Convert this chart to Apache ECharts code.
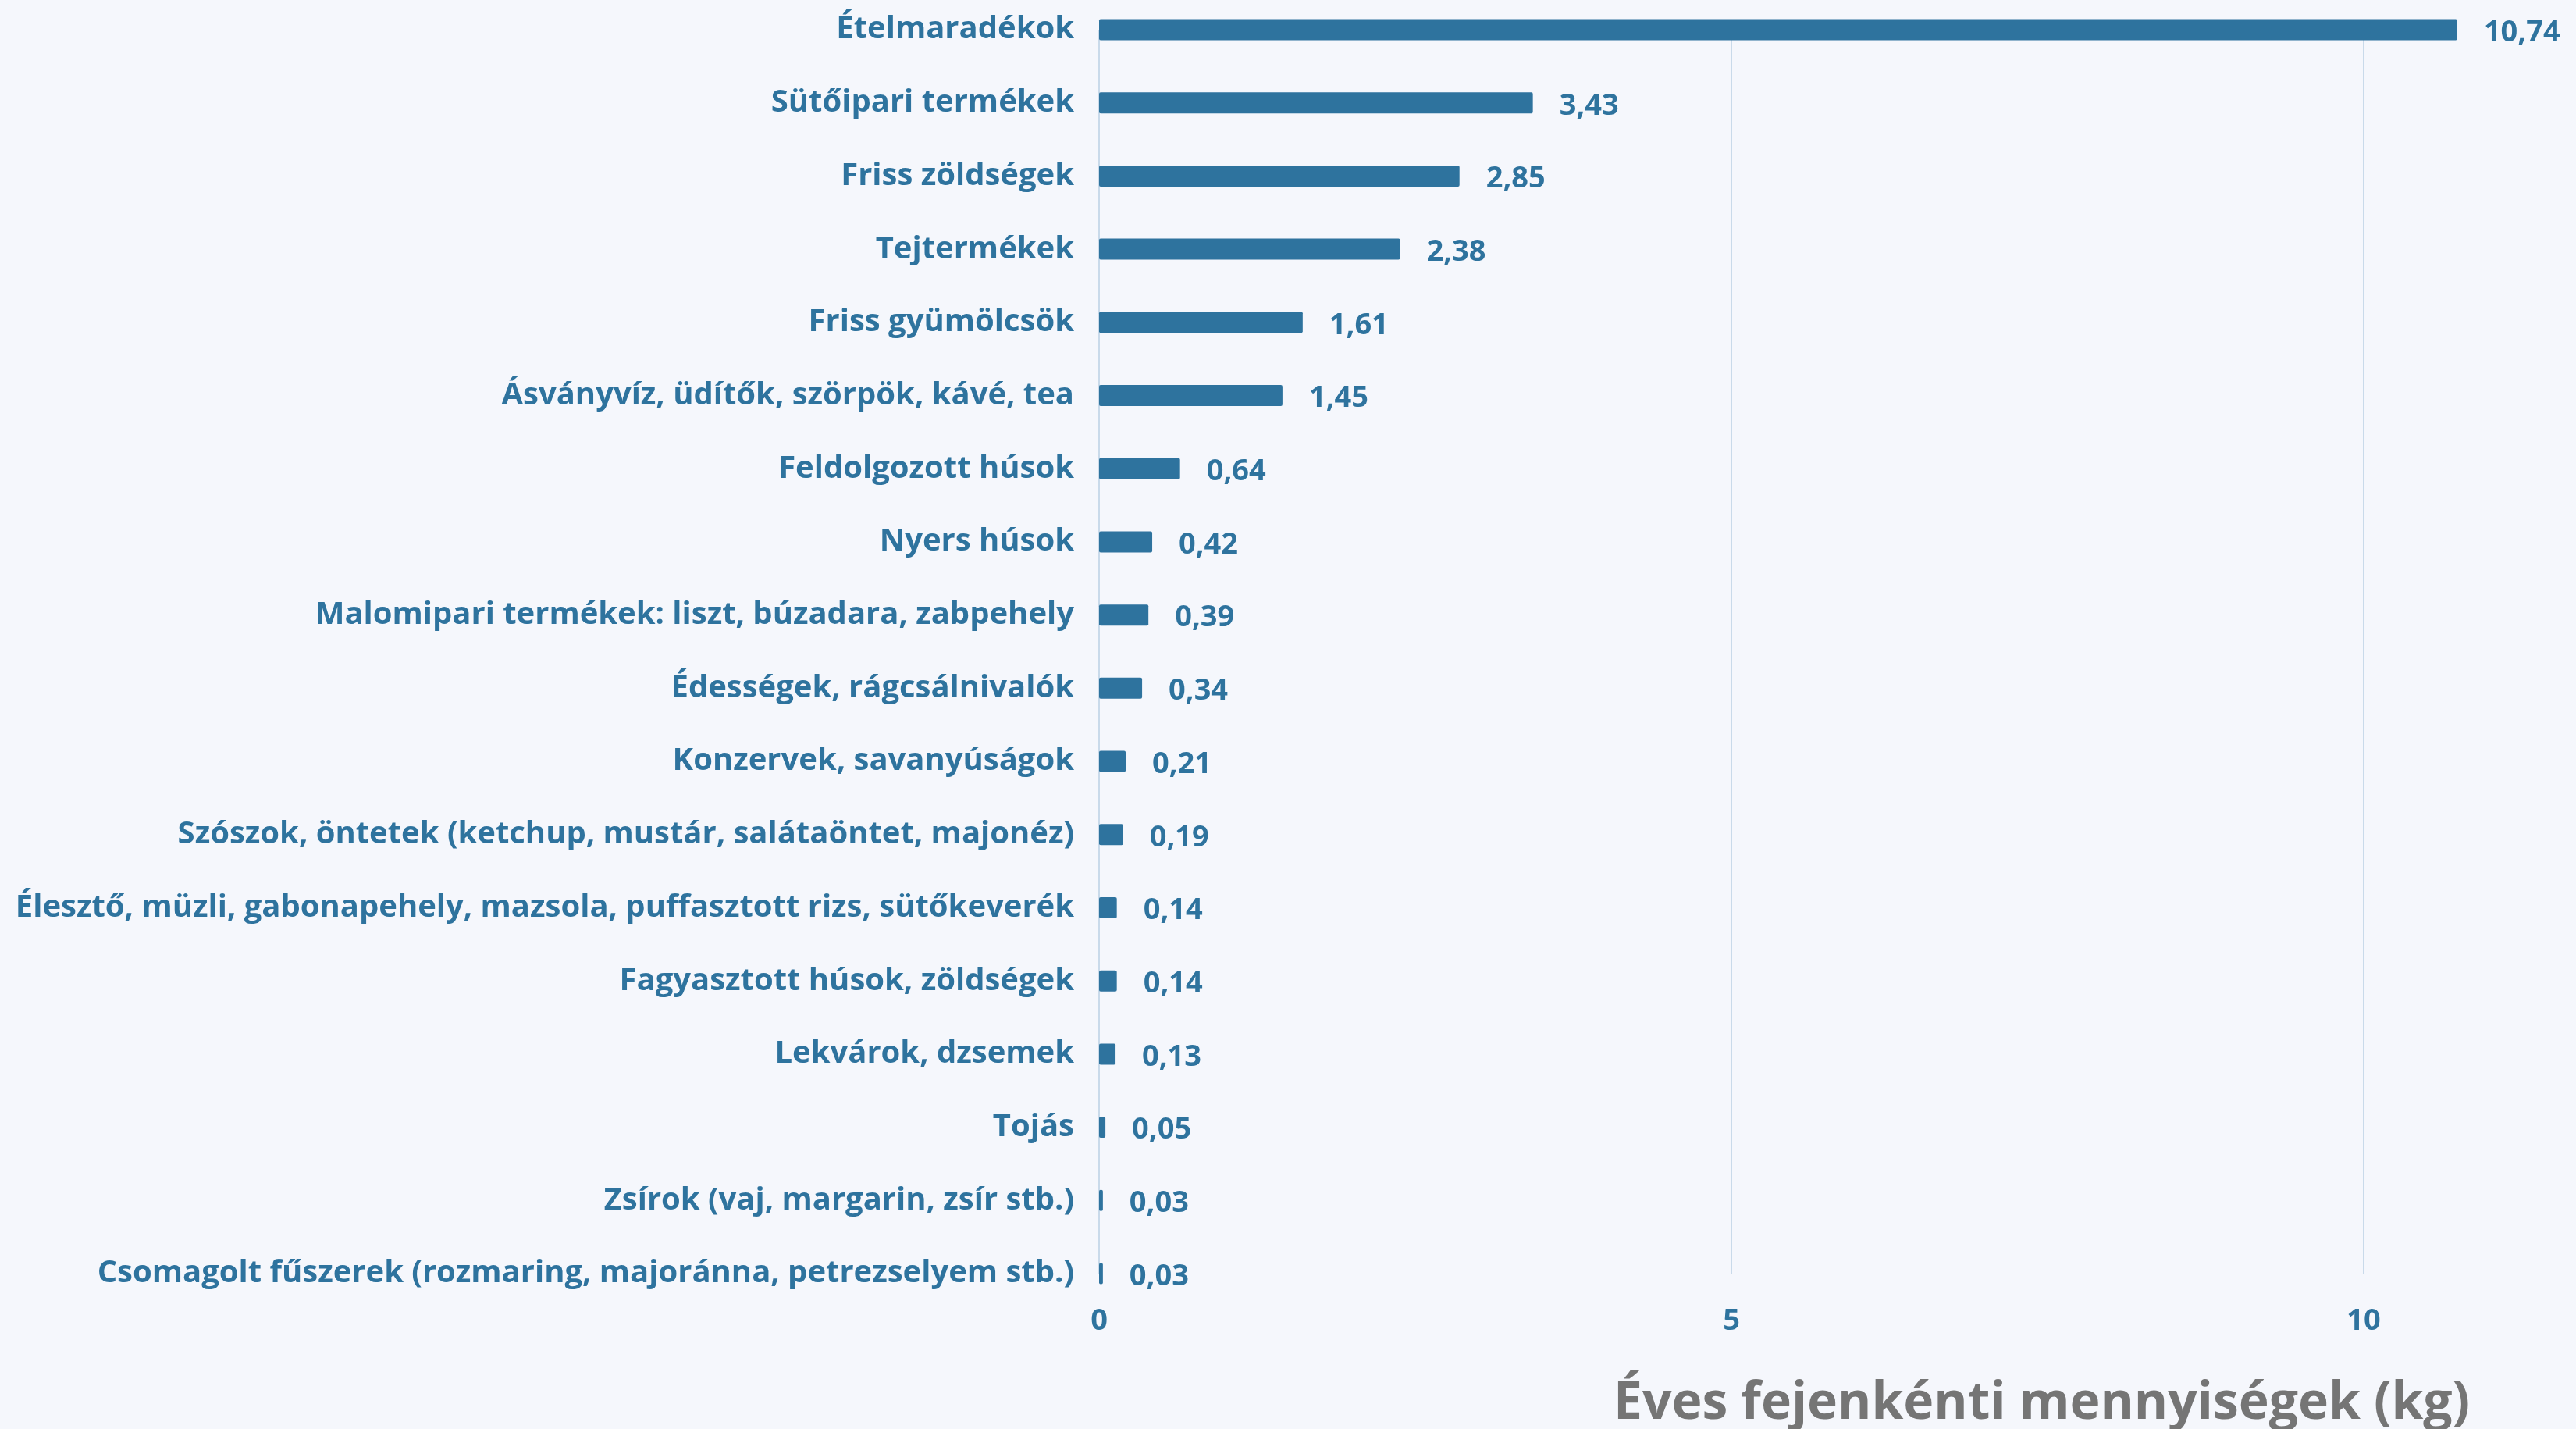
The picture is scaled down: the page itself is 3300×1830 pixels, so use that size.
<!DOCTYPE html>
<html><head><meta charset="utf-8">
<script src="https://cdn.jsdelivr.net/npm/echarts@6/dist/echarts.min.js"></script>
<style>html,body{margin:0;padding:0;background:#F5F7FC;}#c{width:3300px;height:1830px;}</style>
</head><body><div id="c"></div>
<script>
const categories = [
  "Ételmaradékok",
  "Sütőipari termékek",
  "Friss zöldségek",
  "Tejtermékek",
  "Friss gyümölcsök",
  "Ásványvíz, üdítők, szörpök, kávé, tea",
  "Feldolgozott húsok",
  "Nyers húsok",
  "Malomipari termékek: liszt, búzadara, zabpehely",
  "Édességek, rágcsálnivalók",
  "Konzervek, savanyúságok",
  "Szószok, öntetek (ketchup, mustár, salátaöntet, majonéz)",
  "Élesztő, müzli, gabonapehely, mazsola, puffasztott rizs, sütőkeverék",
  "Fagyasztott húsok, zöldségek",
  "Lekvárok, dzsemek",
  "Tojás",
  "Zsírok (vaj, margarin, zsír stb.)",
  "Csomagolt fűszerek (rozmaring, majoránna, petrezselyem stb.)"
];
const values = [10.74, 3.43, 2.85, 2.38, 1.61, 1.45, 0.64, 0.42, 0.39, 0.34, 0.21, 0.19, 0.14, 0.14, 0.13, 0.05, 0.03, 0.03];
const axisTitle = "Éves fejenkénti mennyiségek (kg)";

const blue = '#2E739E';
const font = '"Open Sans", "Noto Sans", sans-serif';
const chart = echarts.init(document.getElementById('c'), null, {renderer: 'canvas'});
chart.setOption({
  backgroundColor: '#F5F7FC',
  animation: false,
  title: {
    text: axisTitle,
    right: 131, bottom: -6,
    textStyle: {color: '#757575', fontFamily: font, fontWeight: 'bold', fontSize: 66}
  },
  grid: {left: 1408, top: 38, width: 2430, height: 1593, containLabel: false, outerBoundsMode: 'none'},
  xAxis: {
    type: 'value', min: 0, max: 15, interval: 5,
    axisLine: {show: false}, axisTick: {show: false},
    splitLine: {show: true, lineStyle: {color: '#C9DAEA', width: 2}},
    axisLabel: {color: blue, fontFamily: font, fontWeight: 'bold', fontSize: 38, margin: 42}
  },
  yAxis: {
    type: 'category', data: categories, inverse: true, boundaryGap: false,
    axisLine: {show: false}, axisTick: {show: false}, splitLine: {show: false},
    axisLabel: {color: blue, fontFamily: font, fontWeight: 'bold', fontSize: 40, margin: 32, padding: [6, 0, 0, 0]}
  },
  series: [{
    type: 'bar', data: values, barWidth: 27, clip: false,
    itemStyle: {color: blue, borderRadius: 2},
    label: {
      show: true, position: 'right', distance: 34, offset: [0, 4],
      color: blue, fontFamily: font, fontWeight: 'bold', fontSize: 38,
      formatter: p => p.value.toFixed(2).replace('.', ',')
    }
  }]
});
</script></body></html>
